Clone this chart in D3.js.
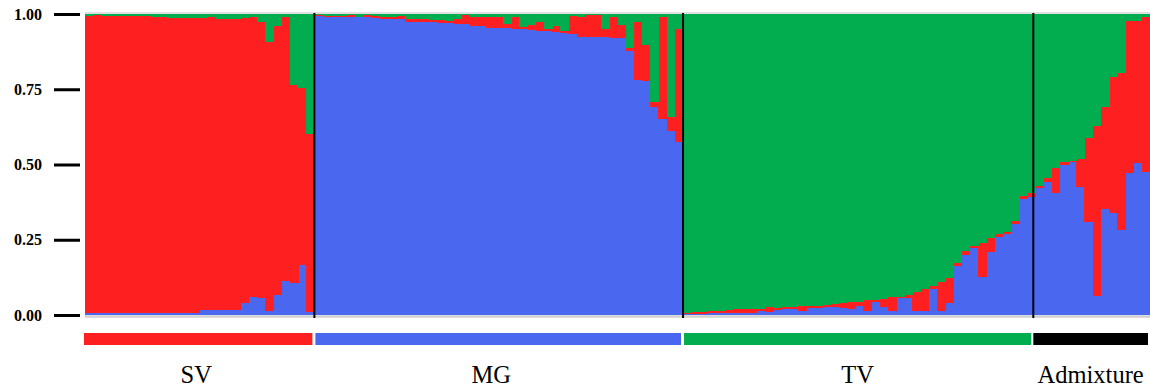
<!DOCTYPE html>
<html>
<head>
<meta charset="utf-8">
<script src="https://cdn.jsdelivr.net/npm/d3@7"></script>
<style>
  html, body { margin: 0; padding: 0; background: #fff; }
  svg { display: block; }
</style>
</head>
<body>
<svg id="chart" width="1150" height="389"></svg>
<script>
// ---------- data ----------
const groups = ["SV", "MG", "TV", "Admixture"];
const groupSizes = [28, 45, 43, 14];
const groupColors = ["#fe1f20", "#4a68ef", "#02ad4f", "#000000"];
const clusterKeys = ["blue", "red", "green"];
const clusterColors = { blue: "#4a68ef", red: "#fe1f20", green: "#02ad4f" };
const yTicks = [0, 0.25, 0.5, 0.75, 1];

// SV individuals
const svBlue  = [0.006,0.006,0.006,0.006,0.006,0.006,0.006,0.006,0.006,0.006,0.006,0.006,0.006,0.006,0.017,0.017,0.017,0.017,0.017,0.04,0.06,0.055,0.012,0.066,0.113,0.105,0.166,0.01];
const svRed   = [0.989,0.991,0.989,0.988,0.988,0.988,0.987,0.986,0.984,0.984,0.982,0.982,0.982,0.982,0.971,0.973,0.968,0.968,0.968,0.948,0.93,0.92,0.896,0.894,0.877,0.659,0.589,0.59];
const svGreen = [0.005,0.003,0.005,0.006,0.006,0.006,0.007,0.008,0.01,0.01,0.012,0.012,0.012,0.012,0.012,0.01,0.015,0.015,0.015,0.012,0.01,0.025,0.092,0.04,0.01,0.236,0.245,0.40];

// MG individuals
const mgBlue  = [0.994,0.991,0.991,0.989,0.991,0.989,0.989,0.988,0.982,0.982,0.982,0.974,0.974,0.972,0.972,0.969,0.969,0.967,0.967,0.961,0.961,0.954,0.954,0.954,0.951,0.949,0.947,0.945,0.945,0.941,0.936,0.933,0.925,0.925,0.925,0.925,0.921,0.921,0.877,0.781,0.777,0.692,0.651,0.611,0.576];
const mgRed   = [0.003,0.003,0.004,0.005,0.006,0.002,0.008,0.005,0.007,0.007,0.011,0.008,0.008,0.010,0.008,0.011,0.008,0.015,0.030,0.028,0.028,0.035,0.035,0.013,0.038,0.009,0.016,0.029,0.004,0.019,0.006,0.060,0.064,0.072,0.072,0.024,0.068,0.042,0.011,0.193,0.120,0.017,0.338,0.046,0.373];
const mgGreen = [0.003,0.006,0.005,0.006,0.003,0.009,0.003,0.007,0.011,0.011,0.007,0.018,0.018,0.018,0.020,0.020,0.023,0.018,0.003,0.011,0.011,0.011,0.011,0.033,0.011,0.042,0.037,0.026,0.051,0.040,0.058,0.007,0.011,0.003,0.003,0.051,0.011,0.037,0.112,0.026,0.103,0.291,0.011,0.343,0.051];

// TV individuals
const tvBlue  = [0.002,0.003,0.003,0.005,0.005,0.008,0.005,0.005,0.005,0.013,0.009,0.016,0.019,0.019,0.013,0.024,0.024,0.026,0.026,0.022,0.019,0.031,0.014,0.042,0.028,0.013,0.055,0.055,0.013,0.013,0.085,0.013,0.039,0.163,0.198,0.221,0.127,0.210,0.258,0.270,0.302,0.385,0.393];
const tvRed   = [0.004,0.006,0.006,0.009,0.009,0.009,0.014,0.014,0.014,0.007,0.019,0.008,0.007,0.009,0.018,0.007,0.007,0.007,0.011,0.017,0.023,0.013,0.036,0.008,0.025,0.046,0.004,0.011,0.064,0.075,0.012,0.098,0.085,0.011,0.015,0.008,0.113,0.047,0.012,0.007,0.010,0.010,0.011];
const tvGreen = [0.994,0.991,0.991,0.986,0.986,0.983,0.981,0.981,0.981,0.980,0.972,0.976,0.974,0.972,0.969,0.969,0.969,0.967,0.963,0.961,0.958,0.956,0.950,0.950,0.947,0.941,0.941,0.934,0.923,0.912,0.903,0.889,0.876,0.826,0.787,0.771,0.760,0.743,0.730,0.723,0.688,0.605,0.596];

// Admixture individuals
const adBlue  = [0.421,0.443,0.404,0.498,0.509,0.426,0.310,0.063,0.351,0.340,0.282,0.471,0.504,0.476];
const adRed   = [0.008,0.011,0.083,0.009,0.003,0.091,0.279,0.565,0.341,0.450,0.521,0.506,0.473,0.513];
const adGreen = [0.571,0.546,0.513,0.493,0.488,0.483,0.411,0.372,0.308,0.210,0.197,0.023,0.023,0.011];

// ---------- build table ----------
const blueAll  = [].concat(svBlue, mgBlue, tvBlue, adBlue);
const redAll   = [].concat(svRed, mgRed, tvRed, adRed);
const greenAll = [].concat(svGreen, mgGreen, tvGreen, adGreen);
const rows = blueAll.map((b, i) => ({ id: i, blue: b, red: redAll[i], green: greenAll[i] }));
const N = rows.length;

const groupStarts = [];
let acc = 0;
groupSizes.forEach(s => { groupStarts.push(acc); acc += s; });

// ---------- layout ----------
const svg = d3.select("#chart");
const plotLeft = 85, plotRight = 1150, plotTop = 14, plotBottom = 315;

const x = d3.scaleBand().domain(d3.range(N)).range([plotLeft, plotRight]).paddingInner(0).paddingOuter(0);
const y = d3.scaleLinear().domain([0, 1]).range([plotBottom, plotTop]);

const series = d3.stack().keys(clusterKeys)(rows);

// gray frame lines
svg.append("line").attr("x1", plotLeft).attr("x2", plotRight)
  .attr("y1", plotTop - 1).attr("y2", plotTop - 1)
  .attr("stroke", "#d6d6d6").attr("stroke-width", 1.5);
svg.append("line").attr("x1", plotLeft).attr("x2", plotRight)
  .attr("y1", plotBottom + 1.5).attr("y2", plotBottom + 1.5)
  .attr("stroke", "#d0d0d0").attr("stroke-width", 2.5);

// stacked bars
svg.append("g").attr("shape-rendering", "crispEdges")
  .selectAll("g").data(series).join("g")
  .attr("fill", d => clusterColors[d.key])
  .selectAll("rect").data(d => d).join("rect")
  .attr("x", d => x(d.data.id))
  .attr("width", x.bandwidth() + 0.6)
  .attr("y", d => y(Math.min(1, d[1])))
  .attr("height", d => Math.max(0, y(d[0]) - y(Math.min(1, d[1]))));

// separators
svg.append("g").selectAll("line").data(groupStarts.slice(1)).join("line")
  .attr("x1", (d, i) => x(d) - (i === 2 ? 2 : 0))
  .attr("x2", (d, i) => x(d) - (i === 2 ? 2 : 0))
  .attr("y1", plotTop - 1).attr("y2", plotBottom + 3)
  .attr("stroke", "#000").attr("stroke-width", 2);

// y axis
const yAxis = d3.axisLeft(y).tickValues(yTicks).tickFormat(d3.format(".2f"))
  .tickSize(26).tickPadding(12);
const gy = svg.append("g").attr("transform", `translate(80,0)`).call(yAxis);
gy.select(".domain").remove();
gy.selectAll(".tick line").attr("stroke", "#000").attr("stroke-width", 3);
gy.selectAll(".tick text")
  .attr("fill", "#000")
  .style("font-family", "'Liberation Serif', 'DejaVu Serif', serif")
  .style("font-weight", "bold")
  .style("font-size", "16px");

// group color bars and labels
const gb = svg.append("g");
groups.forEach((g, gi) => {
  const s = groupStarts[gi], e = s + groupSizes[gi] - 1;
  const x0 = gi === 0 ? x(s) - 1 : (gi === 3 ? x(s) - 2 : x(s) + 1);
  const x1 = gi === groups.length - 1 ? plotRight - 2 : x(e) + x.bandwidth() - (gi === 2 ? 4 : 2);
  gb.append("rect")
    .attr("x", x0).attr("y", 333)
    .attr("width", x1 - x0).attr("height", 12)
    .attr("fill", groupColors[gi]);
  gb.append("text")
    .attr("x", (x0 + x1) / 2 - (gi === 1 ? 7 : 0) - (gi === 0 ? 2 : 0))
    .attr("y", 383)
    .attr("text-anchor", "middle")
    .style("font-family", "'Liberation Serif', 'DejaVu Serif', serif")
    .style("font-size", "24.5px")
    .attr("fill", "#000")
    .text(g);
});
</script>
</body>
</html>
